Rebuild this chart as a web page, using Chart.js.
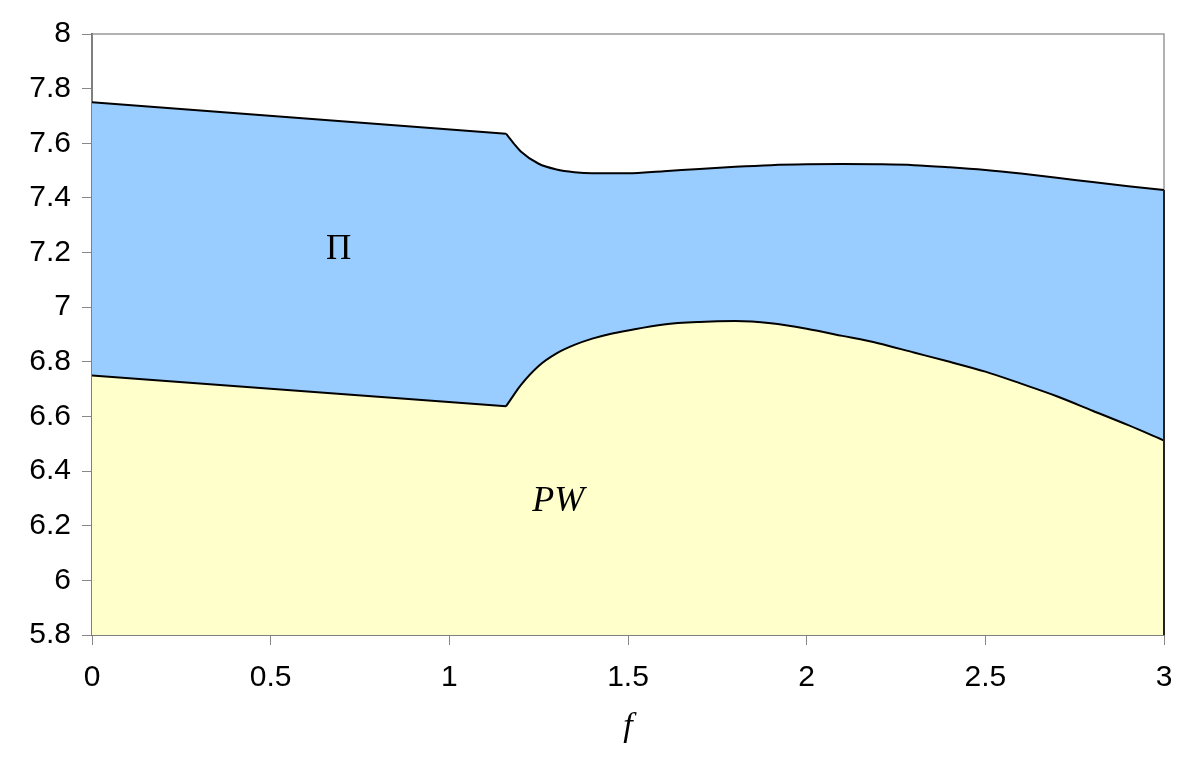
<!DOCTYPE html>
<html>
<head>
<meta charset="utf-8">
<script src="https://cdn.jsdelivr.net/npm/chart.js@4"></script>
<style>
  html, body { margin: 0; padding: 0; background: #fff; }
  #wrap { width: 1200px; height: 771px; }
</style>
</head>
<body>
<div id="wrap"><canvas id="phaseChart"></canvas></div>
<script>
// straight part of both boundaries (f from 0 to the kink)
const straightF = [0, 1.1585];
const upperStraightY = [7.75, 7.635];
const lowerStraightY = [6.75, 6.637];
// curved part of the upper boundary
const upperF = [1.1585, 1.18, 1.2, 1.25, 1.3, 1.35, 1.4, 1.5, 1.6, 1.7, 1.8, 1.9, 2.0, 2.1, 2.2, 2.3, 2.4, 2.5, 2.6, 2.7, 2.8, 2.9, 3.0];
const upperY = [7.635, 7.600, 7.570, 7.525, 7.504, 7.494, 7.490, 7.490, 7.498, 7.506, 7.514, 7.520, 7.523, 7.524, 7.523, 7.520, 7.512, 7.502, 7.489, 7.474, 7.458, 7.443, 7.429];
// curved part of the lower boundary
const lowerF = [1.1585, 1.18, 1.2, 1.25, 1.3, 1.35, 1.4, 1.45, 1.5, 1.6, 1.7, 1.8, 1.9, 2.0, 2.1, 2.2, 2.3, 2.4, 2.5, 2.6, 2.7, 2.8, 2.9, 3.0];
const lowerY = [6.637, 6.678, 6.715, 6.785, 6.831, 6.862, 6.885, 6.902, 6.915, 6.937, 6.946, 6.949, 6.941, 6.921, 6.895, 6.868, 6.834, 6.800, 6.764, 6.720, 6.674, 6.621, 6.568, 6.512];
const yTicks = [5.8, 6, 6.2, 6.4, 6.6, 6.8, 7, 7.2, 7.4, 7.6, 7.8, 8];
const xTicks = [0, 0.5, 1, 1.5, 2, 2.5, 3];
// region labels: [text, f, y]
const regionLabels = [["Π", 0.69, 7.21], ["PW", 1.305, 6.29]];

const toPoints = (xs, ys) => xs.map((x, i) => ({ x: x, y: ys[i] }));
const fmt = (v) => String(Math.round(v * 10) / 10);

const framePlugin = {
  id: "frame",
  beforeDatasetsDraw(chart) {
    const { ctx, chartArea: a } = chart;
    ctx.save();
    ctx.strokeStyle = "#999";
    ctx.lineWidth = 1.5;
    ctx.strokeRect(a.left, a.top, a.right - a.left, a.bottom - a.top);
    ctx.restore();
  },
  afterDatasetsDraw(chart) {
    const { ctx, chartArea: a, scales } = chart;
    const xr = scales.x.getPixelForValue(upperF[upperF.length - 1]);
    const yr = scales.y.getPixelForValue(upperY[upperY.length - 1]);
    ctx.save();
    ctx.strokeStyle = "#222";
    ctx.lineWidth = 2;
    ctx.beginPath();
    ctx.moveTo(xr, yr);
    ctx.lineTo(xr, a.bottom);
    ctx.stroke();
    ctx.textAlign = "center";
    ctx.textBaseline = "middle";
    ctx.fillStyle = "#000";
    regionLabels.forEach(([t, fx, fy]) => {
      ctx.font = t === "PW" ? "italic 36px 'Liberation Serif'" : "35px 'Liberation Serif'";
      ctx.fillText(t, scales.x.getPixelForValue(fx), scales.y.getPixelForValue(fy));
    });
    ctx.restore();
  }
};

const lineStyle = { borderColor: "#000", borderWidth: 2, pointRadius: 0 };

new Chart(document.getElementById("phaseChart"), {
  type: "line",
  data: {
    datasets: [
      { ...lineStyle, data: toPoints(straightF, lowerStraightY), backgroundColor: "#FFFFCC", fill: "start", tension: 0 },
      { ...lineStyle, data: toPoints(lowerF, lowerY), backgroundColor: "#FFFFCC", fill: "start", cubicInterpolationMode: "monotone" },
      { ...lineStyle, data: toPoints(straightF, upperStraightY), backgroundColor: "#99CCFF", fill: 0, tension: 0 },
      { ...lineStyle, data: toPoints(upperF, upperY), backgroundColor: "#99CCFF", fill: 1, cubicInterpolationMode: "monotone" }
    ]
  },
  options: {
    responsive: true,
    maintainAspectRatio: false,
    animation: false,
    layout: { padding: { top: 34, right: 36, left: 0, bottom: 0 } },
    plugins: { legend: { display: false }, tooltip: { enabled: false } },
    scales: {
      x: {
        type: "linear",
        min: 0,
        max: 3,
        afterBuildTicks: (s) => { s.ticks = xTicks.map((v) => ({ value: v })); },
        afterFit: (s) => { s.height = 136; },
        grid: { drawOnChartArea: false, tickLength: 10, color: "#888" },
        border: { display: true, color: "#333", width: 2 },
        ticks: { color: "#000", padding: 15, maxRotation: 0, callback: fmt, font: { family: "'Liberation Sans', Arial", size: 30 } },
        title: { display: true, text: "f", color: "#000", padding: { top: 0, bottom: 24 }, font: { family: "'Liberation Serif'", style: "italic", size: 34 } }
      },
      y: {
        min: 5.8,
        max: 8,
        afterBuildTicks: (s) => { s.ticks = yTicks.map((v) => ({ value: v })); },
        afterFit: (s) => { s.width = 92; },
        grid: { drawOnChartArea: false, tickLength: 10, color: "#888" },
        border: { display: true, color: "#333", width: 2 },
        ticks: { color: "#000", padding: 11, callback: fmt, font: { family: "'Liberation Sans', Arial", size: 30 } }
      }
    }
  },
  plugins: [framePlugin]
});
</script>
</body>
</html>
